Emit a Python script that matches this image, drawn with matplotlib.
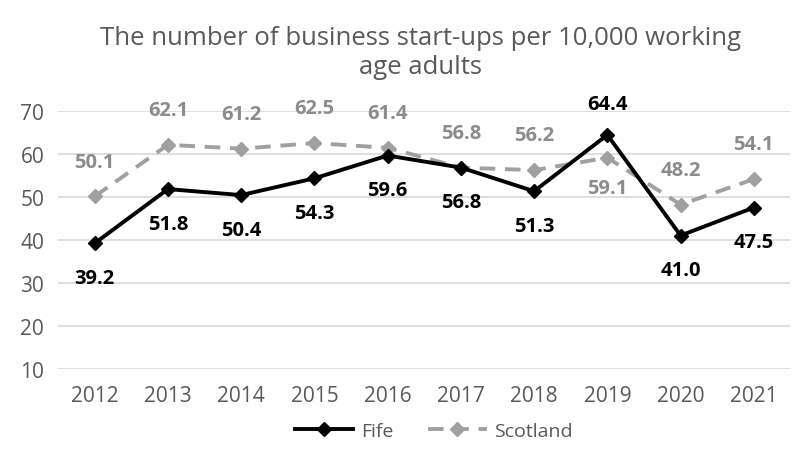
import matplotlib
matplotlib.use('Agg')
import matplotlib.pyplot as plt

plt.rcParams['font.family'] = ['Open Sans', 'DejaVu Sans']

years = ['2012', '2013', '2014', '2015', '2016', '2017', '2018', '2019', '2020', '2021']
fife = [39.2, 51.8, 50.4, 54.3, 59.6, 56.8, 51.3, 64.4, 41.0, 47.5]
scotland = [50.1, 62.1, 61.2, 62.5, 61.4, 56.8, 56.2, 59.1, 48.2, 54.1]
yticks = [10, 20, 30, 40, 50, 60, 70]

# label placement: Fife mostly below, Scotland mostly above
fife_above = [False, False, False, False, False, False, False, True, False, False]
scot_above = [True, True, True, True, True, True, True, False, True, True]

fig = plt.figure(figsize=(7.96, 4.64), dpi=100)
ax = fig.add_axes([0.073, 0.203, 0.920, 0.556])

x = list(range(len(years)))
ax.plot(x, scotland, color='#a0a0a0', lw=2.8, ls=(0, (4, 2.5)), marker='D',
        markersize=7, label='Scotland', zorder=3)
ax.plot(x, fife, color='black', lw=2.8, marker='D', markersize=7,
        label='Fife', zorder=4)

for i, v in enumerate(fife):
    off = 22 if fife_above[i] else -25
    ax.annotate(f'{v:.1f}', (i, v), xytext=(0, off), textcoords='offset points',
                ha='center', va='center', fontsize=14.5, fontweight='bold', color='black')
for i, v in enumerate(scotland):
    off = 25 if scot_above[i] else -22
    ax.annotate(f'{v:.1f}', (i, v), xytext=(0, off), textcoords='offset points',
                ha='center', va='center', fontsize=14.5, fontweight='bold', color='#8c8c8c')

ax.set_xlim(-0.5, len(years) - 0.5)
ax.set_ylim(10, 70)
ax.set_yticks(yticks)
ax.set_xticks(x)
ax.set_xticklabels(years)
ax.grid(axis='y', color='#d9d9d9', lw=1.2)
ax.set_axisbelow(True)
for s in ax.spines.values():
    s.set_visible(False)
ax.tick_params(length=0, labelsize=15, labelcolor='#595959')
ax.tick_params(axis='x', pad=12)
ax.tick_params(axis='y', pad=10)

fig.suptitle('The number of business start-ups per 10,000 working\nage adults',
             x=0.528, y=0.943, fontsize=18.5, color='#595959', linespacing=1.2)

handles, labels = ax.get_legend_handles_labels()
fig.legend(handles[::-1], labels[::-1], loc='center', bbox_to_anchor=(0.545, 0.07),
           ncol=2, frameon=False, fontsize=14, labelcolor='#595959',
           handlelength=3, columnspacing=1.8, handletextpad=0.4)

fig.savefig('out.png', dpi=100)
